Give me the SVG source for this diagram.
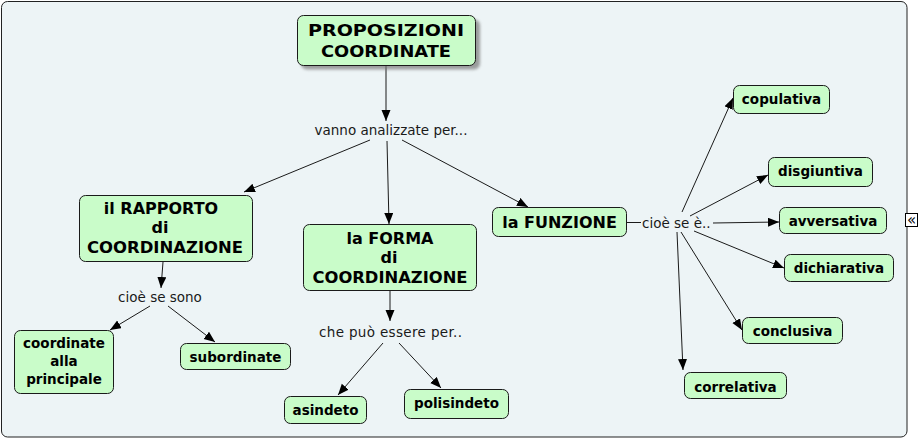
<svg xmlns="http://www.w3.org/2000/svg" width="921" height="439" viewBox="0 0 921 439">
<defs>
<style>
.node{fill:#c9fcc9;stroke:#1a1a1a;stroke-width:1}
.nt{font-family:"DejaVu Sans",Verdana,sans-serif;font-weight:bold;font-size:16px;fill:#000;text-anchor:middle}
.lt{font-family:"DejaVu Sans",Verdana,sans-serif;font-weight:bold;font-size:13.5px;fill:#000;text-anchor:middle}
.lab{font-family:"DejaVu Sans",Verdana,sans-serif;font-size:13.5px;fill:#1a1a1a;text-anchor:middle}
.c{stroke:#1a1a1a;stroke-width:1;fill:none}
.a{marker-end:url(#arr)}
</style>
<marker id="arr" markerUnits="userSpaceOnUse" markerWidth="12" markerHeight="10" refX="11" refY="4.5" orient="auto">
<path d="M0,0 L11,4.5 L0,9 z" fill="#000"/>
</marker>
<filter id="sh" x="-10%" y="-20%" width="130%" height="150%"><feGaussianBlur stdDeviation="1.5"/></filter>
</defs>
<rect x="1.5" y="1.5" width="905.5" height="435.5" rx="6" fill="#edf4f6" stroke="#222" stroke-width="1"/>
<g id="collapse">
<rect x="905.5" y="213.5" width="12" height="13" fill="#fff" stroke="#000" stroke-width="1"/>
<text x="911.5" y="225" font-family="DejaVu Sans,sans-serif" font-size="15" text-anchor="middle" fill="#000">«</text>
</g>
<g id="connectors">
<line class="c a" x1="386" y1="66" x2="386" y2="121"/>
<line class="c a" x1="370" y1="140" x2="244" y2="192"/>
<line class="c a" x1="387" y1="141" x2="389" y2="224"/>
<line class="c a" x1="402" y1="140" x2="528" y2="207"/>
<line class="c a" x1="163" y1="262" x2="161" y2="288"/>
<line class="c a" x1="150" y1="306" x2="110" y2="330"/>
<line class="c a" x1="168" y1="306" x2="215" y2="342"/>
<line class="c a" x1="390" y1="291" x2="390" y2="321"/>
<line class="c a" x1="383" y1="343" x2="338" y2="395"/>
<line class="c a" x1="399" y1="343" x2="441" y2="388"/>
<line class="c" x1="626" y1="222.5" x2="641" y2="222.5"/>
<line class="c a" x1="682" y1="212" x2="733" y2="98"/>
<line class="c a" x1="690" y1="216" x2="768" y2="175"/>
<line class="c a" x1="713" y1="223" x2="779" y2="222"/>
<line class="c a" x1="694" y1="231" x2="784" y2="268"/>
<line class="c a" x1="681" y1="232" x2="742" y2="330"/>
<line class="c a" x1="677" y1="232" x2="683" y2="370"/>
</g>
<g id="n-title">
<rect x="301" y="19.5" width="179" height="50" rx="6" fill="#777" opacity="0.7" filter="url(#sh)"/>
<rect class="node" x="297.5" y="15.5" width="178" height="50" rx="6"/>
<text class="nt" x="386" y="36" textLength="156" lengthAdjust="spacingAndGlyphs">PROPOSIZIONI</text>
<text class="nt" x="386" y="57" textLength="130" lengthAdjust="spacingAndGlyphs">COORDINATE</text>
</g>
<g id="l-vanno"><text class="lab" x="391" y="135">vanno analizzate per...</text></g>
<g id="n-rapporto">
<rect class="node" x="79.5" y="195.5" width="173" height="66" rx="6"/>
<text class="nt" x="161" y="214">il RAPPORTO</text>
<text class="nt" x="160" y="233">di</text>
<text class="nt" x="165" y="253" textLength="156" lengthAdjust="spacingAndGlyphs">COORDINAZIONE</text>
</g>
<g id="l-sono"><text class="lab" x="160" y="302">cioè se sono</text></g>
<g id="n-coordinate">
<rect class="node" x="14.5" y="330.5" width="99" height="63" rx="6"/>
<text class="lt" x="64" y="348">coordinate</text>
<text class="lt" x="64" y="366">alla</text>
<text class="lt" x="64" y="383.5">principale</text>
</g>
<g id="n-subordinate">
<rect class="node" x="180.5" y="343.5" width="110" height="26" rx="6"/>
<text class="lt" x="235.5" y="362">subordinate</text>
</g>
<g id="n-forma">
<rect class="node" x="303.5" y="224.5" width="173" height="66" rx="6"/>
<text class="nt" x="390" y="244">la FORMA</text>
<text class="nt" x="389" y="263">di</text>
<text class="nt" x="390" y="283" textLength="155" lengthAdjust="spacingAndGlyphs">COORDINAZIONE</text>
</g>
<g id="l-puo"><text class="lab" x="390.5" y="337" textLength="143" lengthAdjust="spacing">che può essere per..</text></g>
<g id="n-asindeto">
<rect class="node" x="284.5" y="396.5" width="82" height="27" rx="6"/>
<text class="lt" x="325.5" y="415">asindeto</text>
</g>
<g id="n-polisindeto">
<rect class="node" x="404.5" y="389.5" width="104" height="29" rx="6"/>
<text class="lt" x="456.5" y="408">polisindeto</text>
</g>
<g id="n-funzione">
<rect class="node" x="492.5" y="207.5" width="134" height="29" rx="6"/>
<text class="nt" x="559.5" y="228">la FUNZIONE</text>
</g>
<g id="l-e"><text class="lab" x="642" y="228" style="text-anchor:start">cioè se è..</text></g>
<g id="n-copulativa">
<rect class="node" x="733.5" y="85.5" width="96" height="28" rx="6"/>
<text class="lt" x="781.5" y="103.5">copulativa</text>
</g>
<g id="n-disgiuntiva">
<rect class="node" x="768.5" y="157.5" width="104" height="29" rx="6"/>
<text class="lt" x="820.5" y="175.5">disgiuntiva</text>
</g>
<g id="n-avversativa">
<rect class="node" x="779.5" y="207.5" width="107" height="26" rx="6"/>
<text class="lt" x="833" y="226">avversativa</text>
</g>
<g id="n-dichiarativa">
<rect class="node" x="784.5" y="254.5" width="109" height="27" rx="6"/>
<text class="lt" x="839" y="273">dichiarativa</text>
</g>
<g id="n-conclusiva">
<rect class="node" x="742.5" y="317.5" width="100" height="26" rx="6"/>
<text class="lt" x="792.5" y="336">conclusiva</text>
</g>
<g id="n-correlativa">
<rect class="node" x="684.5" y="372.5" width="102" height="26" rx="6"/>
<text class="lt" x="735.5" y="391.5">correlativa</text>
</g>
</svg>
